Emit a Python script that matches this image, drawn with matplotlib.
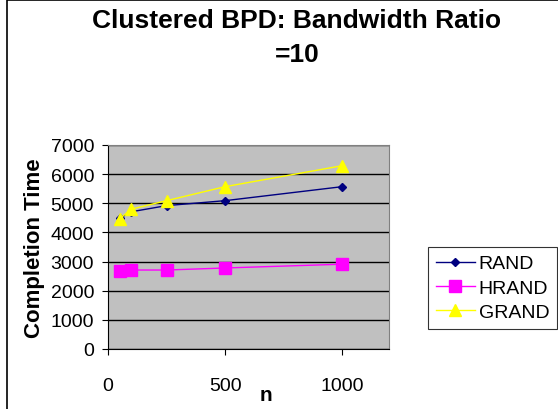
import matplotlib.pyplot as plt
from matplotlib.patches import Rectangle

n = [50, 100, 250, 500, 1000]
rand = [4490, 4710, 4920, 5090, 5570]
hrand = [2690, 2710, 2710, 2780, 2910]
grand = [4470, 4800, 5090, 5570, 6290]

plt.rcParams['font.family'] = ['Liberation Sans', 'DejaVu Sans']

fig = plt.figure(figsize=(5.58, 4.10), dpi=100)
fig.patches.append(Rectangle((7 / 558, -0.1), 1.2, 1.1 - 1 / 410, transform=fig.transFigure,
                             fill=False, edgecolor='black', linewidth=1.2))
ax = fig.add_axes([108 / 558, 1 - 350 / 410, 281 / 558, 204 / 410])
ax.set_facecolor('#C0C0C0')

ax.plot(n, rand, color='#000080', marker='D', markersize=4, linewidth=1, label='RAND')
ax.plot(n, hrand, color='#FF00FF', marker='s', markersize=8, linewidth=1, label='HRAND')
ax.plot(n, grand, color='#FFFF00', marker='^', markersize=9, linewidth=1, label='GRAND')

ax.set_xlim(0, 1200)
ax.set_ylim(0, 7000)
ax.set_xticks([0, 500, 1000])
ax.set_yticks(range(0, 7001, 1000))
ax.yaxis.grid(True, color='black', linewidth=1)
ax.set_axisbelow(True)
ax.tick_params(labelsize=14, length=4, color='black', direction='out')
ax.tick_params(axis='x', pad=16)
ax.tick_params(axis='y', pad=6)
for s in ['top', 'right']:
    ax.spines[s].set_color('#808080')
for s in ['left', 'bottom']:
    ax.spines[s].set_color('black')

ax.set_ylabel('Completion Time', fontsize=16, fontweight='bold', labelpad=4)
fig.text(266 / 558, 1 - 396 / 410, 'n', ha='center', va='center', fontsize=15, fontweight='bold')

fig.text(0.532, 1 - 21 / 410, 'Clustered BPD: Bandwidth Ratio', ha='center', va='center',
         fontsize=19, fontweight='bold')
fig.text(0.532, 1 - 55 / 410, '=10', ha='center', va='center', fontsize=19, fontweight='bold')

leg = ax.legend(loc='upper left', bbox_to_anchor=(428 / 558, 1 - 248 / 410),
                bbox_transform=fig.transFigure, fontsize=14, frameon=True, fancybox=False,
                edgecolor='black', borderpad=0.4, labelspacing=0.35, handlelength=2.0,
                handletextpad=0.2, borderaxespad=0)
leg.get_frame().set_linewidth(0.8)

fig.savefig('out.png', dpi=100)
